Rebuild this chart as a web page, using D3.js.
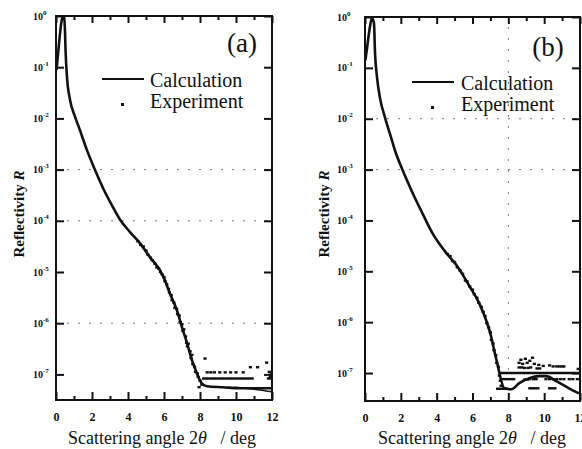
<!DOCTYPE html>
<html><head><meta charset="utf-8">
<script src="https://cdn.jsdelivr.net/npm/d3@7"></script>
<style>body{margin:0;background:#fff}svg{display:block}</style>
</head><body><svg id="c" width="582" height="449"></svg>
<script>
// ---- tick labels ----
const xTicksMajor = [0, 2, 4, 6, 8, 10, 12];
const xTicksMinor = [1, 3, 5, 7, 9, 11];
const yTickExps = [0, -1, -2, -3, -4, -5, -6, -7];
const panelLabels = ["(a)", "(b)"];
const legendLabels = ["Calculation", "Experiment"];

// ---- panel (a): calculation (2θ in deg, log10 R) ----
const calcA_x    = [0.03, 0.17, 0.30, 0.38, 0.45, 0.50, 0.53, 0.61, 0.78, 1.06, 1.30, 1.72, 2.17, 2.61, 3.17, 3.56, 4.11, 4.67, 5.22, 5.78, 6.00, 6.33, 6.72, 7.00, 7.28, 7.56, 7.83, 8.11, 8.39, 9.28, 10.2, 12.0];
const calcA_logR = [-1.05, -0.53, -0.12, 0, -0.02, -0.30, -0.66, -1.19, -1.64, -1.97, -2.20, -2.62, -3.01, -3.36, -3.74, -3.98, -4.22, -4.44, -4.71, -4.97, -5.12, -5.42, -5.75, -6.08, -6.39, -6.73, -6.98, -7.18, -7.23, -7.25, -7.27, -7.27];
const tailA_x    = [9.9, 10.5, 11.2, 12.0];
const tailA_logR = [-7.25, -7.27, -7.30, -7.34];
// ---- panel (a): experiment ----
const expA_x = [4.55, 4.7, 4.85, 5.0, 5.1, 5.25, 5.35, 5.5, 5.6, 5.7, 5.8, 5.9, 6.0, 6.05, 6.15, 6.25, 6.3, 6.4, 6.45, 6.55, 6.6, 6.7, 6.75, 6.85, 6.9, 7.0, 7.05, 7.1, 7.2, 7.25, 7.3, 7.35, 7.45, 7.5, 7.55, 7.6, 7.7, 7.75, 7.85, 7.9, 8.0, 8.1, 7.95, 8.28,
  8.4, 8.6, 8.8, 9.1, 9.4, 9.7, 10.0, 10.4, 10.8, 11.2, 11.7,
  8.2, 8.35, 8.5, 8.65, 8.8, 8.95, 9.1, 9.25, 9.4, 9.55, 9.7, 9.85, 10.0, 10.15, 10.3, 10.45, 10.6, 10.75, 10.9, 11.8, 11.95,
  11.85, 11.95, 11.9];
const expA_logR = [-4.40, -4.47, -4.50, -4.58, -4.66, -4.72, -4.77, -4.84, -4.91, -4.93, -5.00, -5.05, -5.10, -5.18, -5.24, -5.33, -5.40, -5.45, -5.55, -5.60, -5.70, -5.72, -5.82, -5.85, -5.98, -6.02, -6.15, -6.12, -6.26, -6.38, -6.45, -6.40, -6.55, -6.68, -6.62, -6.80, -6.85, -6.95, -6.98, -7.05, -7.12, -7.20, -7.25, -6.69,
  -6.96, -6.96, -6.96, -6.96, -6.96, -6.96, -6.96, -6.96, -6.86, -6.86, -6.77,
  -7.08, -7.08, -7.08, -7.08, -7.08, -7.08, -7.08, -7.08, -7.08, -7.08, -7.08, -7.08, -7.08, -7.08, -7.08, -7.08, -7.08, -7.08, -7.08, -7.08, -7.08,
  -6.95, -7.00, -7.05];

// ---- panel (b): calculation ----
const calcB_x    = [0.02, 0.10, 0.25, 0.39, 0.50, 0.56, 0.67, 0.83, 1.11, 1.50, 1.67, 2.11, 2.67, 3.22, 3.78, 4.56, 5.11, 5.56, 5.83, 6.39, 6.78, 7.06, 7.22, 7.39, 7.50, 7.78, 8.17, 8.61, 9.17, 9.72, 10.1, 10.67, 11.39, 11.94];
const calcB_logR = [-0.85, -0.65, -0.25, -0.02, -0.12, -0.71, -1.18, -1.58, -1.97, -2.42, -2.62, -3.02, -3.47, -3.87, -4.26, -4.65, -4.88, -5.13, -5.29, -5.64, -5.98, -6.31, -6.57, -6.82, -7.00, -7.30, -7.32, -7.20, -7.10, -7.06, -7.06, -7.16, -7.30, -7.40];
const levelB_x    = [7.5, 12.0];
const levelB_logR = [-7.0, -7.0];
// ---- panel (b): experiment ----
const expB_x = [4.6, 4.75, 4.9, 5.0, 5.15, 5.3, 5.45, 5.6, 5.7, 5.85, 6.0, 6.1, 6.25, 6.35, 6.5, 6.6, 6.7, 6.8, 6.9, 7.0, 7.05, 7.15, 7.2, 7.3, 7.35, 7.45, 7.5, 7.55, 7.6,
  8.6, 8.7, 8.8, 8.95, 9.05, 9.2, 9.35, 9.45, 9.7, 9.95, 10.3, 10.5,
  8.6, 8.75, 8.9, 9.1, 9.25, 9.6, 9.75, 10.7, 10.85, 11.0, 11.1, 11.9,
  7.7, 7.85, 8.0, 8.15, 8.3, 8.9, 9.05, 9.2, 9.4, 9.55, 10.1, 10.3, 10.5, 10.7, 10.9, 11.1, 11.4, 11.6, 11.85,
  7.4, 7.55, 7.7, 7.85, 9.2, 9.35, 9.5, 9.65, 10.3, 10.45, 10.6];
const expB_logR = [-4.66, -4.70, -4.80, -4.82, -4.92, -4.98, -5.05, -5.18, -5.20, -5.30, -5.36, -5.45, -5.52, -5.62, -5.70, -5.80, -5.88, -6.02, -6.10, -6.20, -6.35, -6.42, -6.55, -6.65, -6.80, -6.88, -7.05, -7.15, -7.25,
  -6.80, -6.74, -6.82, -6.72, -6.80, -6.76, -6.70, -6.82, -6.84, -6.86, -6.85, -6.87,
  -6.89, -6.89, -6.90, -6.90, -6.89, -6.91, -6.91, -6.87, -6.87, -6.87, -6.87, -6.92,
  -7.12, -7.12, -7.12, -7.12, -7.12, -7.13, -7.13, -7.12, -7.12, -7.12, -7.12, -7.12, -7.12, -7.12, -7.12, -7.12, -7.12, -7.12, -7.12,
  -7.31, -7.31, -7.31, -7.31, -7.30, -7.30, -7.30, -7.30, -7.30, -7.30, -7.30];

// faint scanned grid lines (decade exponents / degrees)
const gridA_y = [-3, -4, -6];
const gridB_y = [-2, -3];
const gridB_x = [8];

const svg = d3.select('#c');
const SERIF = "'Liberation Serif','Times New Roman',serif";
const INK = '#111';

function panel(o) {
  const x = d3.scaleLinear().domain([0, 12]).range([o.left, o.right]);
  const y = d3.scaleLog().domain([Math.pow(10, o.yMinExp), 1]).range([o.bottom, o.top]);
  const g = svg.append('g');

  // grid
  o.gridY.forEach(e => g.append('line')
    .attr('x1', o.left).attr('x2', o.right).attr('y1', y(Math.pow(10, e))).attr('y2', y(Math.pow(10, e)))
    .attr('stroke', '#777').attr('stroke-width', 1).attr('stroke-dasharray', '2,9'));
  o.gridX.forEach(v => g.append('line')
    .attr('x1', x(v)).attr('x2', x(v)).attr('y1', o.top + 10).attr('y2', o.bottom - 30)
    .attr('stroke', '#777').attr('stroke-width', 1).attr('stroke-dasharray', '2,9'));

  // axes
  const styleAxis = sel => {
    sel.select('.domain').remove();
    sel.selectAll('.tick line').attr('stroke', INK).attr('stroke-width', 2);
  };
  const bx = g.append('g').attr('transform', `translate(0,${o.bottom})`)
    .call(d3.axisBottom(x).tickValues(xTicksMajor).tickSize(-8).tickPadding(12).tickFormat(d3.format('d')));
  styleAxis(bx);
  bx.selectAll('.tick text').attr('font-family', SERIF).attr('font-size', 12).attr('font-weight', 'bold').attr('fill', INK);
  const bm = g.append('g').attr('transform', `translate(0,${o.bottom})`)
    .call(d3.axisBottom(x).tickValues(xTicksMinor).tickSize(-4).tickFormat(''));
  styleAxis(bm);
  const tx = g.append('g').attr('transform', `translate(0,${o.top})`)
    .call(d3.axisTop(x).tickValues(xTicksMajor).tickSize(-7).tickFormat(''));
  styleAxis(tx);
  const tm = g.append('g').attr('transform', `translate(0,${o.top})`)
    .call(d3.axisTop(x).tickValues(xTicksMinor).tickSize(-4).tickFormat(''));
  styleAxis(tm);

  const yVals = yTickExps.map(e => Math.pow(10, e));
  const ly = g.append('g').attr('transform', `translate(${o.left},0)`)
    .call(d3.axisLeft(y).tickValues(yVals).tickSize(-8).tickPadding(0).tickFormat(''));
  styleAxis(ly);
  ly.selectAll('.tick').each(function(d, i) {
    const t = d3.select(this).append('text')
      .attr('x', -o.yLabOff).attr('y', 3).attr('text-anchor', 'start')
      .attr('font-family', SERIF).attr('font-size', 10).attr('font-weight', 'bold').attr('fill', INK);
    t.append('tspan').text('10');
    t.append('tspan').attr('dy', -5).attr('font-size', 7).text(String(yTickExps[i]));
  });
  const ry = g.append('g').attr('transform', `translate(${o.right},0)`)
    .call(d3.axisRight(y).tickValues(yVals).tickSize(-8).tickFormat(''));
  styleAxis(ry);

  // frame
  g.append('rect').attr('x', o.left).attr('y', o.top).attr('width', o.right - o.left).attr('height', o.bottom - o.top)
    .attr('fill', 'none').attr('stroke', INK).attr('stroke-width', 2);

  // clip
  const cid = 'clip' + o.id;
  svg.append('clipPath').attr('id', cid).append('rect')
    .attr('x', o.left).attr('y', o.top).attr('width', o.right - o.left).attr('height', o.bottom - o.top);
  const p = g.append('g').attr('clip-path', `url(#${cid})`);

  const line = d3.line().x(d => x(d[0])).y(d => y(Math.pow(10, d[1]))).curve(d3.curveMonotoneX);
  p.append('path').datum(o.calcX.map((v, i) => [v, o.calcL[i]]))
    .attr('d', line).attr('fill', 'none').attr('stroke', INK).attr('stroke-width', 2.6).attr('stroke-linejoin', 'round');
  p.append('path').datum(o.altX.map((v, i) => [v, o.altL[i]]))
    .attr('d', line).attr('fill', 'none').attr('stroke', INK).attr('stroke-width', o.altW);

  p.selectAll('rect.pt').data(o.expX.map((v, i) => [v, o.expL[i]])).enter().append('rect')
    .attr('class', 'pt')
    .attr('x', d => x(d[0]) - 1.6).attr('y', d => y(Math.pow(10, d[1])) - 1.2)
    .attr('width', 3.2).attr('height', 2.4).attr('fill', INK);

  // panel label
  g.append('text').attr('x', o.labX).attr('y', o.labY).attr('text-anchor', 'middle')
    .attr('font-family', SERIF).attr('font-size', 27).attr('fill', INK).text(o.label);

  // legend
  g.append('line').attr('x1', o.legX1).attr('x2', o.legX1 + 42).attr('y1', o.legY).attr('y2', o.legY)
    .attr('stroke', INK).attr('stroke-width', 2.2);
  g.append('text').attr('x', o.legTX).attr('y', o.legY + 8).attr('font-family', SERIF).attr('font-size', 20)
    .attr('fill', INK).text(legendLabels[0]);
  g.append('rect').attr('x', o.legX1 + 19).attr('y', o.legY + 24).attr('width', 3).attr('height', 3).attr('fill', INK);
  g.append('text').attr('x', o.legTX).attr('y', o.legY + 29).attr('font-family', SERIF).attr('font-size', 20)
    .attr('fill', INK).text(legendLabels[1]);

  // axis titles
  const yt = g.append('text').attr('transform', `translate(${o.yTitleX},214) rotate(-90)`).attr('text-anchor', 'middle')
    .attr('font-family', SERIF).attr('font-size', 15).attr('font-weight', 'bold').attr('fill', INK);
  yt.append('tspan').text('Reflectivity ');
  yt.append('tspan').attr('font-style', 'italic').text('R');

  const xt = g.append('text').attr('x', o.xTitleX).attr('y', 444).attr('text-anchor', 'middle')
    .attr('font-family', SERIF).attr('font-size', 18).attr('fill', INK);
  xt.append('tspan').text('Scattering angle 2');
  xt.append('tspan').attr('font-style', 'italic').text('θ');
  xt.append('tspan').text('\u2002 / deg');
}

panel({ id: 'A', left: 56, right: 272, top: 16, bottom: 400, yMinExp: -7.5,
  calcX: calcA_x, calcL: calcA_logR, altX: tailA_x, altL: tailA_logR, altW: 1.6,
  expX: expA_x, expL: expA_logR, gridY: gridA_y, gridX: [],
  yLabOff: 23, label: panelLabels[0], labX: 242, labY: 52,
  legX1: 102, legY: 79, legTX: 150, yTitleX: 24, xTitleX: 162 });
panel({ id: 'B', left: 365, right: 580, top: 17, bottom: 401, yMinExp: -7.55,
  calcX: calcB_x, calcL: calcB_logR, altX: levelB_x, altL: levelB_logR, altW: 2.4,
  expX: expB_x, expL: expB_logR, gridY: gridB_y, gridX: gridB_x,
  yLabOff: 28, label: panelLabels[1], labX: 548, labY: 56,
  legX1: 412, legY: 82, legTX: 461, yTitleX: 329, xTitleX: 472 });
</script>
</body></html>
